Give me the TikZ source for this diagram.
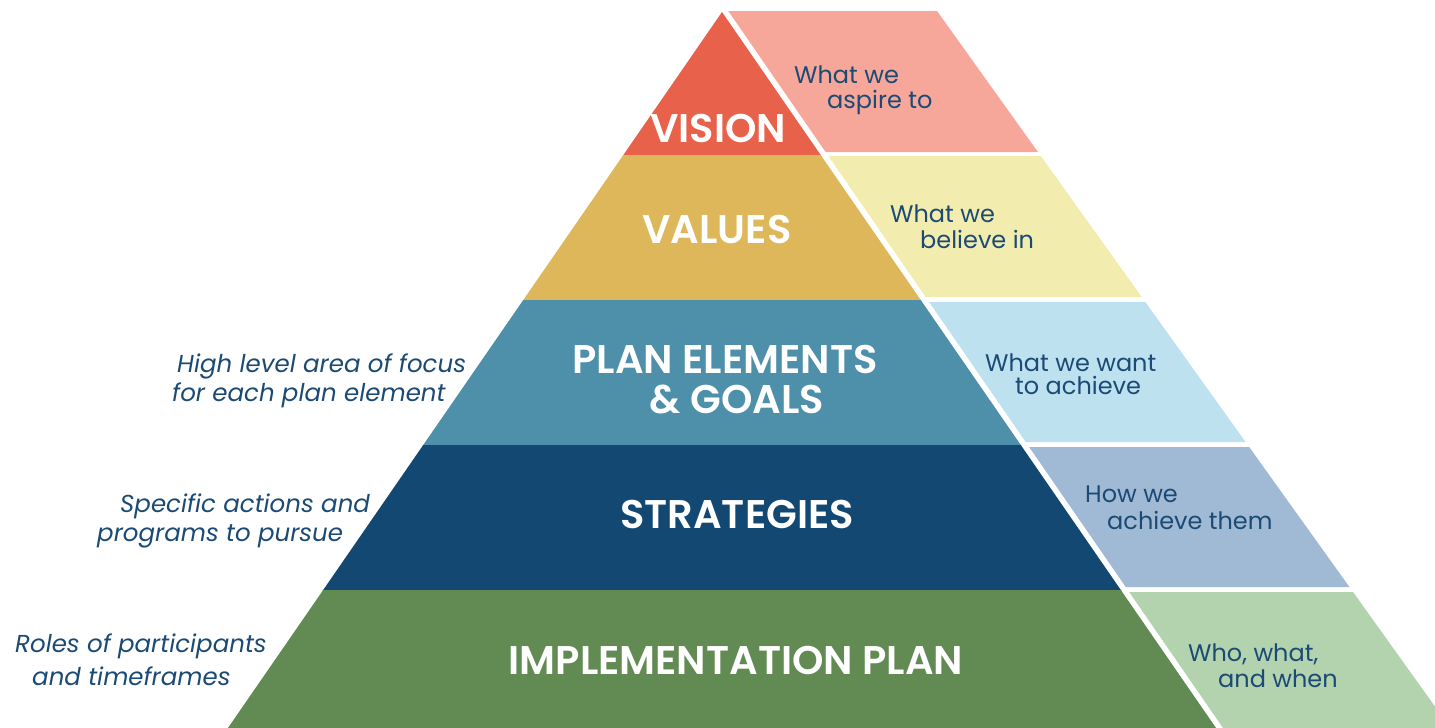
\documentclass[tikz,border=0pt]{standalone}
\usepackage{fontspec}
\setmainfont{Poppins}[BoldFont={Poppins SemiBold}]
\definecolor{cVision}{HTML}{E8614A}
\definecolor{cValues}{HTML}{DFB75B}
\definecolor{cPlan}{HTML}{4E8FAA}
\definecolor{cStrat}{HTML}{124872}
\definecolor{cImpl}{HTML}{618B53}
\definecolor{pVision}{HTML}{F6A79A}
\definecolor{pValues}{HTML}{F3ECAF}
\definecolor{pPlan}{HTML}{BEE1F0}
\definecolor{pStrat}{HTML}{A0BAD5}
\definecolor{pImpl}{HTML}{B3D2AE}
\definecolor{txtblue}{HTML}{1B4A74}
\begin{document}
\begin{tikzpicture}[x=1pt,y=-1pt,
  big/.style={text=white,font=\fontsize{40}{42}\selectfont\bfseries,inner sep=0pt,anchor=base},
  side/.style={text=txtblue,font=\fontsize{24}{26}\selectfont,inner sep=0pt,anchor=base west,text height=17pt,text depth=2pt},
  note/.style={text=txtblue,font=\fontsize{24.5}{26}\selectfont\itshape,inner sep=0pt,anchor=base west}]
\useasboundingbox (0,0) rectangle (1435,728);
\begin{scope}
\clip (0,0) rectangle (1435,728);
% pyramid bands
\foreach \t/\b/\c in {12/156/cVision, 155/301/cValues, 300/446/cPlan, 445/591/cStrat, 590/728/cImpl} {
  \fill[\c] ({722-0.69*(\t-12)},\t) -- ({722+0.69*(\t-12)},\t) -- ({722+0.69*(\b-12)},\b) -- ({722-0.69*(\b-12)},\b) -- cycle;
}
% side panels
\foreach \t/\b/\c in {11/152/pVision, 156/297/pValues, 302/442/pPlan, 447/587/pStrat, 592/728/pImpl} {
  \fill[\c] ({729+0.69*(\t-12)},\t) -- ({937+0.716*(\t-11)},\t) -- ({937+0.716*(\b-11)},\b) -- ({729+0.69*(\b-12)},\b) -- cycle;
}
\end{scope}
% pyramid labels
\node[big] (vision) at (718,142) {VISION};
\node[big] (values) at (717,243) {VALUES};
\node[big] (plan1) at (725,373) {PLAN ELEMENTS};
\node[big] (plan2) at (737,413) {\& GOALS};
\node[big] (strat) at (737,528) {STRATEGIES};
\node[big] (impl) at (736,674) {IMPLEMENTATION PLAN};
% panel texts
\node[side] (s1a) at (794,83) {What we};
\node[side] (s1b) at (827,108) {aspire to};
\node[side] (s2a) at (890,222) {What we};
\node[side] (s2b) at (920,248) {believe in};
\node[side] (s3a) at (985,371) {What we want};
\node[side] (s3b) at (1015,394) {to achieve};
\node[side] (s4a) at (1085,502) {How we};
\node[side] (s4b) at (1107,529) {achieve them};
\node[side] (s5a) at (1188,661) {Who, what,};
\node[side] (s5b) at (1218,687) {and when};
% left notes
\node[note] (n1a) at (177,372) {High level area of focus};
\node[note] (n1b) at (172,401) {for each plan element};
\node[note] (n2a) at (120,512) {Specific actions and};
\node[note] (n2b) at (97,541) {programs to pursue};
\node[note] (n3a) at (15,652) {Roles of participants};
\node[note] (n3b) at (32,685) {and timeframes};
\end{tikzpicture}
\end{document}
